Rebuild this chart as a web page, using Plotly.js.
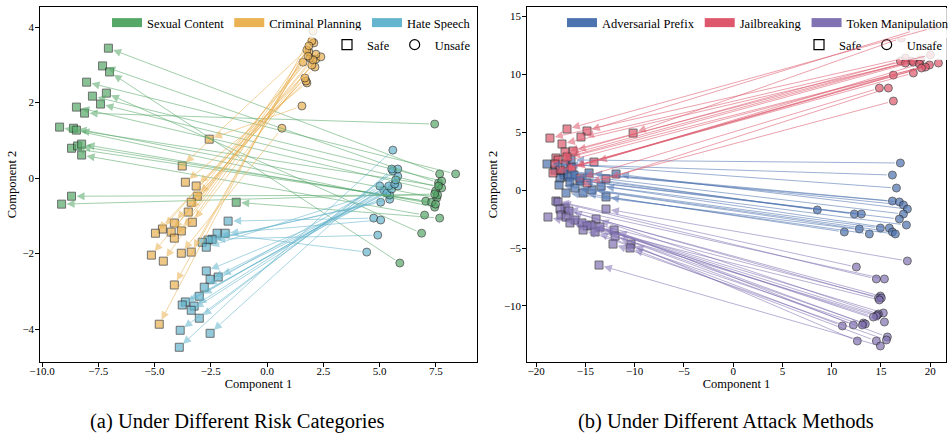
<!DOCTYPE html>
<html><head><meta charset="utf-8">
<script src="https://cdn.plot.ly/plotly-3.0.1.min.js"></script>
<style>html,body{margin:0;padding:0;background:#fff;overflow:hidden}#chart{width:948px;height:433px}</style>
</head><body><div id="chart"></div>
<script>
// ---------- (a) risk categories ----------
const sexualSafeX = [-7.05,-7.31,-7.00,-8.02,-7.14,-7.76,-7.40,-8.47,-8.11,-9.22,-8.60,-8.47,-8.69,-8.42,-8.24,-8.24,-8.69,-9.13,-1.37];
const sexualSafeY = [3.44,2.97,2.81,2.54,2.25,2.17,1.96,1.88,1.72,1.35,1.32,1.27,0.79,0.85,0.90,0.61,-0.48,-0.69,-0.64];
const sexualUnsafeX = [7.67,7.62,5.90,8.38,6.87,7.76,7.76,7.49,7.45,7.45,7.54,7.62,7.05,7.31,7.49,7.00,7.58,7.45,7.67];
const sexualUnsafeY = [0.11,-0.13,-2.25,0.11,-1.46,-0.08,-0.26,-0.34,1.43,-0.77,-0.53,-0.21,-0.61,-0.64,-0.69,-0.98,-0.45,-0.42,-1.06];

const criminalSafeX = [-2.57,-3.77,-3.63,-3.15,-3.10,-3.37,-3.50,-4.12,-3.32,-4.65,-4.96,-4.26,-3.81,-4.12,-3.81,-3.37,-5.14,-4.61,-4.12,-4.79];
const criminalSafeY = [1.03,0.32,-0.11,-0.21,-0.48,-0.64,-0.90,-1.19,-1.17,-1.35,-1.46,-1.43,-1.40,-1.59,-1.99,-1.96,-2.04,-2.20,-2.83,-3.87];
const criminalUnsafeX = [1.55,2.08,1.77,1.73,1.68,2.13,1.99,1.60,2.17,1.91,2.39,2.17,1.86,1.77,0.66,1.99,2.04,1.82,1.86,2.04];
const criminalUnsafeY = [1.91,3.58,2.52,2.57,2.65,2.94,2.99,3.07,3.15,3.18,3.21,3.28,3.34,3.39,1.32,3.63,3.13,3.23,3.50,3.89];

const hateSafeX = [-1.73,-2.22,-1.86,-2.44,-2.62,-2.88,-2.70,-2.70,-2.17,-2.53,-2.79,-3.01,-3.63,-3.77,-3.24,-3.37,-3.01,-3.86,-2.53,-3.90];
const hateSafeY = [-1.14,-1.46,-1.46,-1.62,-1.64,-1.70,-1.83,-2.46,-2.62,-2.68,-2.89,-3.13,-3.28,-3.36,-3.39,-3.50,-3.71,-4.03,-4.11,-4.48];
const hateUnsafeX = [4.74,4.43,5.05,4.92,5.05,5.45,5.19,5.45,5.32,5.54,5.01,5.41,5.81,5.67,5.81,5.72,5.59,5.81,5.54,5.59];
const hateUnsafeY = [-1.06,-1.96,-1.11,-1.51,-0.64,-0.56,-0.32,-0.45,-0.40,-0.29,-0.21,-0.21,-0.21,-0.16,0.05,-0.05,0.19,0.24,0.24,0.74];

// ---------- (b) attack methods ----------
const advSafeX = [-16.46,-18.90,-17.07,-18.09,-17.28,-14.63,-11.89,-17.17,-16.16,-16.77,-17.58,-15.55,-16.57,-17.68,-13.41,-16.06,-14.33,-15.24,-16.97,-12.91];
const advSafeY = [2.59,2.24,2.24,1.72,1.55,1.47,1.38,1.29,1.29,1.12,1.03,0.78,0.69,0.43,0.34,0.17,0.00,-0.26,-0.26,-0.60];
const advUnsafeX = [16.97,16.16,16.57,16.16,16.87,17.28,17.68,8.54,17.28,12.30,13.01,16.87,17.58,14.94,15.85,12.80,16.16,11.28,16.46,13.82];
const advUnsafeY = [2.33,1.29,0.17,-0.95,-1.03,-1.29,-1.64,-1.72,-2.07,-2.07,-2.07,-2.50,-3.02,-3.28,-3.28,-3.36,-3.62,-3.62,-3.79,-3.79];

const jbSafeX = [-16.87,-14.84,-10.16,-15.45,-18.60,-17.38,-16.26,-17.07,-16.87,-17.99,-17.78,-14.13,-18.09,-16.46,-16.36,-17.58,-18.29,-15.55,-12.91,-14.84];
const jbSafeY = [5.26,5.09,4.91,4.57,4.48,3.97,3.36,3.28,2.84,2.76,2.59,2.41,2.24,1.98,1.90,1.72,1.47,1.03,0.95,0.60];
const jbUnsafeX = [20.22,18.50,17.07,20.02,17.48,19.00,16.97,18.09,18.29,17.48,20.83,18.90,19.92,19.51,19.11,18.29,16.26,14.84,15.75,16.26];
const jbUnsafeY = [13.97,13.79,13.10,11.64,11.38,11.21,11.12,11.12,11.03,10.95,10.95,10.86,10.78,10.60,10.52,10.09,9.91,8.79,8.79,7.67];

const tokSafeX = [-17.99,-17.78,-17.07,-17.58,-12.91,-16.67,-17.48,-18.80,-16.97,-13.92,-16.06,-16.57,-15.35,-14.43,-14.84,-13.52,-12.09,-15.24,-14.02,-11.99,-12.20,-10.37,-10.47,-13.62];
const tokSafeY = [-0.95,-1.03,-1.55,-1.64,-1.64,-1.81,-2.16,-2.33,-2.33,-2.50,-2.59,-2.84,-2.84,-3.02,-3.10,-3.19,-3.45,-3.45,-3.62,-3.97,-4.66,-4.66,-5.00,-6.47];
const tokUnsafeX = [12.50,14.53,15.35,14.94,17.68,14.74,15.04,14.84,15.24,14.74,14.63,14.53,14.23,15.35,13.21,13.41,12.20,13.11,11.08,15.65,15.55,12.60,14.53,14.94];
const tokUnsafeY = [-6.64,-7.67,-7.67,-9.14,-6.12,-9.31,-9.31,-9.48,-10.60,-10.69,-10.78,-10.86,-10.95,-11.38,-11.47,-11.55,-11.64,-11.64,-11.72,-12.67,-12.93,-13.02,-13.02,-13.45];

const categoryNames = ['Sexual Content','Criminal Planning','Hate Speech'];
const methodNames = ['Adversarial Prefix','Jailbreaking','Token Manipulation'];
const captions = ['(a) Under Different Risk Categories','(b) Under Different Attack Methods'];
const axisTitles = ['Component 1','Component 2'];

const groups = [
  {name:categoryNames[0], rgb:[85,168,104], sx:sexualSafeX, sy:sexualSafeY, ux:sexualUnsafeX, uy:sexualUnsafeY, xa:'x', ya:'y', lg:'legend'},
  {name:categoryNames[1], rgb:[234,178,82], sx:criminalSafeX, sy:criminalSafeY, ux:criminalUnsafeX, uy:criminalUnsafeY, xa:'x', ya:'y', lg:'legend'},
  {name:categoryNames[2], rgb:[100,181,205], sx:hateSafeX, sy:hateSafeY, ux:hateUnsafeX, uy:hateUnsafeY, xa:'x', ya:'y', lg:'legend'},
  {name:methodNames[0], rgb:[76,114,176], sx:advSafeX, sy:advSafeY, ux:advUnsafeX, uy:advUnsafeY, xa:'x2', ya:'y2', lg:'legend3'},
  {name:methodNames[1], rgb:[221,88,108], sx:jbSafeX, sy:jbSafeY, ux:jbUnsafeX, uy:jbUnsafeY, xa:'x2', ya:'y2', lg:'legend3'},
  {name:methodNames[2], rgb:[129,114,179], sx:tokSafeX, sy:tokSafeY, ux:tokUnsafeX, uy:tokUnsafeY, xa:'x2', ya:'y2', lg:'legend3'}
];

const rgba = (c,a) => 'rgba(' + c.join(',') + ',' + a + ')';
const W = 948, H = 433;
const px = v => v / W, py = v => 1 - v / H;

const traces = [];
const annotations = [];
groups.forEach(g => {
  for (let i = 0; i < g.sx.length; i++) {
    annotations.push({
      xref: g.xa, yref: g.ya, axref: g.xa, ayref: g.ya,
      x: g.sx[i], y: g.sy[i], ax: g.ux[i], ay: g.uy[i],
      text: '', showarrow: true, arrowhead: 2, arrowsize: 1.6, arrowwidth: 1,
      arrowcolor: rgba(g.rgb, 0.55), standoff: 5, startstandoff: 4
    });
  }
  traces.push({type:'scatter', mode:'markers', x:g.ux, y:g.uy, xaxis:g.xa, yaxis:g.ya, showlegend:false, hoverinfo:'skip',
    marker:{symbol:'circle', size:8, color:rgba(g.rgb,1), opacity:0.7, line:{color:'#222', width:0.9}}});
  traces.push({type:'scatter', mode:'markers', x:g.sx, y:g.sy, xaxis:g.xa, yaxis:g.ya, showlegend:false, hoverinfo:'skip',
    marker:{symbol:'square', size:8, color:rgba(g.rgb,1), opacity:0.7, line:{color:'#222', width:0.9}}});
});
// legend entries
groups.forEach(g => {
  traces.push({type:'scatter', mode:'lines', x:[null], y:[null], xaxis:g.xa, yaxis:g.ya, name:g.name, legend:g.lg,
    showlegend:true, hoverinfo:'skip', line:{color:rgba(g.rgb,1), width:9}});
});
[['x','y','legend2'],['x2','y2','legend4']].forEach(([xa,ya,lg]) => {
  traces.push({type:'scatter', mode:'markers', x:[null], y:[null], xaxis:xa, yaxis:ya, name:'Safe', legend:lg, showlegend:true,
    marker:{symbol:'square-open', size:10, color:'black', line:{width:1.2}}});
  traces.push({type:'scatter', mode:'markers', x:[null], y:[null], xaxis:xa, yaxis:ya, name:'Unsafe', legend:lg, showlegend:true,
    marker:{symbol:'circle-open', size:10, color:'black', line:{width:1.2}}});
});

annotations.push({xref:'paper', yref:'paper', x:px(237), y:py(421), text:captions[0], showarrow:false,
  xanchor:'center', yanchor:'middle', font:{size:20.5}});
annotations.push({xref:'paper', yref:'paper', x:px(726), y:py(421), text:captions[1], showarrow:false,
  xanchor:'center', yanchor:'middle', font:{size:20.5}});

const axCommon = {showline:true, mirror:true, linecolor:'black', linewidth:1.2, ticks:'outside', ticklen:3.5,
  tickwidth:1, tickcolor:'black', showgrid:false, zeroline:false, tickfont:{size:11}};
const legCommon = {orientation:'h', xanchor:'left', yanchor:'top', bgcolor:'rgba(255,255,255,0.8)', borderwidth:0,
  font:{size:12.5}, itemwidth:30, itemclick:false, itemdoubleclick:false};

const layout = {
  width:W, height:H, margin:{l:0, r:0, t:0, b:0, autoexpand:false}, paper_bgcolor:'white', plot_bgcolor:'white',
  font:{family:'"Liberation Serif", "Times New Roman", serif', color:'black'},
  showlegend:true,
  xaxis: Object.assign({}, axCommon, {domain:[px(40), px(477)], range:[-10.09, 9.33], tick0:0, dtick:2.5, tickformat:'.1f',
    anchor:'y', ticklabelstandoff:-5, title:{text:axisTitles[0], font:{size:12.5}, standoff:2}}),
  yaxis: Object.assign({}, axCommon, {domain:[py(362), py(7)], range:[-4.87, 4.53], tick0:0, dtick:2,
    anchor:'x', ticklabelstandoff:-1, title:{text:axisTitles[1], font:{size:12.5}, standoff:3}}),
  xaxis2: Object.assign({}, axCommon, {domain:[px(527), px(946)], range:[-20.93, 21.6], tick0:0, dtick:5,
    anchor:'y2', ticklabelstandoff:-5, title:{text:axisTitles[0], font:{size:12.5}, standoff:2}}),
  yaxis2: Object.assign({}, axCommon, {domain:[py(362), py(7)], range:[-14.83, 15.78], tick0:0, dtick:5,
    anchor:'x2', ticklabelstandoff:-1, title:{text:axisTitles[1], font:{size:12.5}, standoff:3}}),
  legend: Object.assign({}, legCommon, {x:px(107), y:py(8)}),
  legend2: Object.assign({}, legCommon, {x:px(327), y:py(30)}),
  legend3: Object.assign({}, legCommon, {x:px(562), y:py(8)}),
  legend4: Object.assign({}, legCommon, {x:px(799), y:py(30)}),
  annotations: annotations
};

Plotly.newPlot('chart', traces, layout, {displayModeBar:false, staticPlot:true});
</script>
</body></html>
